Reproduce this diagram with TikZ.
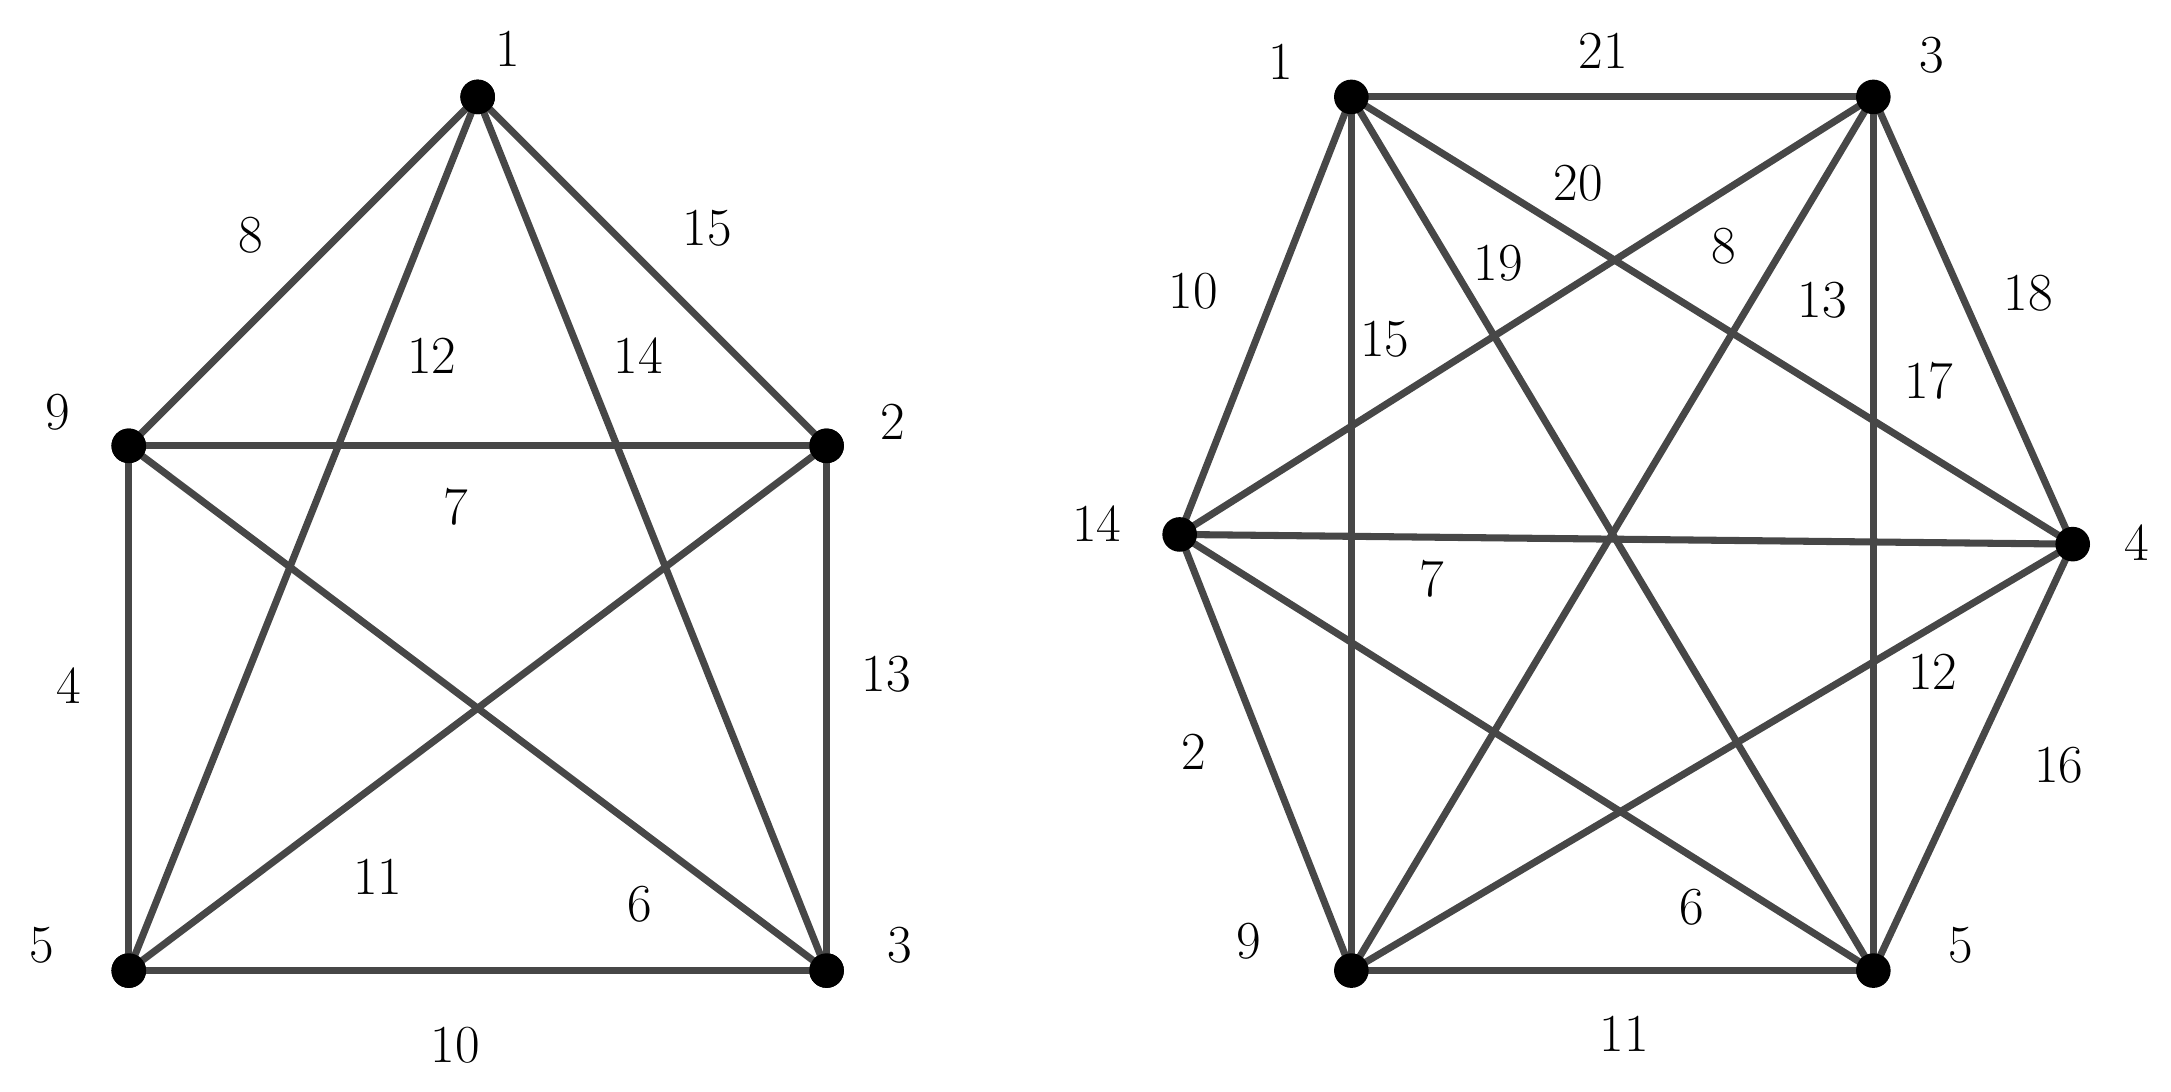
\documentclass[tikz,border=0pt]{standalone}
\begin{document}
\begin{tikzpicture}[x=0.02cm,y=-0.02cm,
  vtx/.style={circle,fill=black,inner sep=0pt,minimum size=0.5cm},
  edge/.style={draw=black!72,line width=2.9pt},
  lbl/.style={font=\fontsize{22}{26}\selectfont}]
\useasboundingbox (0,0) rectangle (1568,788);
% left graph
\node[vtx] (a1) at (345,70) {};
\node[vtx] (a9) at (93,322) {};
\node[vtx] (a2) at (597,322) {};
\node[vtx] (a5) at (93,701) {};
\node[vtx] (a3) at (597,701) {};
\begin{scope}[on background layer/.try]
\end{scope}
\foreach \u/\v in {a1/a9,a1/a5,a1/a3,a1/a2,a9/a2,a9/a5,a9/a3,a2/a5,a2/a3,a5/a3}
  \draw[edge] (\u.center) -- (\v.center);
\foreach \n in {a1,a9,a2,a5,a3} \node[vtx] at (\n) {};
\node[lbl] (la1) at (367,35) {1};
\node[lbl] (la9) at (42,298) {9};
\node[lbl] (la2) at (645,305) {2};
\node[lbl] (la5) at (30,683) {5};
\node[lbl] (la3) at (650,683) {3};
\node[lbl] (e8) at (181,170) {8};
\node[lbl] (e15) at (511,165) {15};
\node[lbl] (e12) at (312,257) {12};
\node[lbl] (e14) at (461,257) {14};
\node[lbl] (e7) at (329,366) {7};
\node[lbl] (e4) at (50,495) {4};
\node[lbl] (e13) at (640,487) {13};
\node[lbl] (e11) at (273,633) {11};
\node[lbl] (e6) at (462,653) {6};
\node[lbl] (e10) at (329,755) {10};
% right graph
\coordinate (b1) at (976,70);
\coordinate (b3) at (1353,70);
\coordinate (b14) at (852,386);
\coordinate (b4) at (1497,393);
\coordinate (b9) at (976,701);
\coordinate (b5) at (1353,701);
\foreach \u/\v in {b1/b3,b1/b14,b1/b9,b1/b5,b1/b4,b3/b14,b3/b9,b3/b5,b3/b4,b14/b4,b14/b9,b14/b5,b4/b9,b4/b5,b9/b5}
  \draw[edge] (\u) -- (\v);
\foreach \n in {b1,b3,b14,b4,b9,b5} \node[vtx] (n\n) at (\n) {};
\node[lbl] (lb1) at (925,45) {1};
\node[lbl] (lb3) at (1395,40) {3};
\node[lbl] (lb14) at (792,378) {14};
\node[lbl] (lb4) at (1543,392) {4};
\node[lbl] (lb9) at (902,680) {9};
\node[lbl] (lb5) at (1416,683) {5};
\node[lbl] (f21) at (1158,37) {21};
\node[lbl] (f20) at (1140,132) {20};
\node[lbl] (f19) at (1082,190) {19};
\node[lbl] (f8) at (1245,178) {8};
\node[lbl] (f13) at (1316,217) {13};
\node[lbl] (f10) at (862,210) {10};
\node[lbl] (f15) at (1000,245) {15};
\node[lbl] (f17) at (1393,275) {17};
\node[lbl] (f18) at (1465,212) {18};
\node[lbl] (f7) at (1034,418) {7};
\node[lbl] (f12) at (1396,485) {12};
\node[lbl] (f16) at (1487,553) {16};
\node[lbl] (f2) at (862,543) {2};
\node[lbl] (f6) at (1222,655) {6};
\node[lbl] (f11) at (1173,747) {11};
\end{tikzpicture}
\end{document}
